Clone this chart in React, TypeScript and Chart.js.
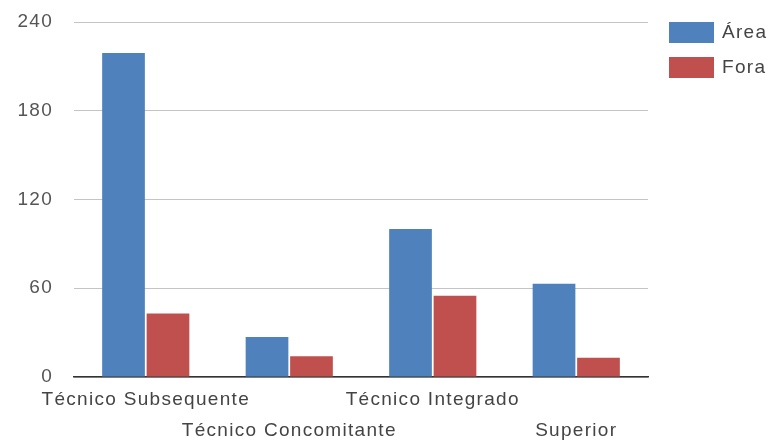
import React, { useEffect, useRef } from "react";
import { Chart, registerables } from "chart.js";

Chart.register(...registerables);

const categories: (string | string[])[] = [
  ["Técnico Subsequente", ""],
  ["", "Técnico Concomitante"],
  ["Técnico Integrado", ""],
  ["", "Superior"],
];
const seriesNames = ["Área", "Fora"];
const areaValues = [219, 27, 100, 63];
const foraValues = [43, 14, 55, 13];
const yTicks = [0, 60, 120, 180, 240];

const FONT = "'Liberation Sans', Arial, sans-serif";
const SPACING = "1.3px";

const spacingPlugin = {
  id: "spacing",
  beforeUpdate(chart: any) {
    chart.ctx.letterSpacing = SPACING;
  },
  beforeDraw(chart: any) {
    chart.ctx.letterSpacing = SPACING;
  },
};

const legendPlugin = {
  id: "customLegend",
  afterDraw(chart: any) {
    const ctx = chart.ctx;
    const area = chart.chartArea;
    ctx.save();
    ctx.letterSpacing = SPACING;
    ctx.font = `19px ${FONT}`;
    ctx.textBaseline = "middle";
    ctx.textAlign = "left";
    chart.data.datasets.forEach((ds: any, i: number) => {
      const x = area.right + 21;
      const y = area.top + i * 35;
      ctx.fillStyle = ds.backgroundColor;
      ctx.fillRect(x, y, 45, 21);
      ctx.fillStyle = "#444";
      ctx.fillText(ds.label, x + 53, y + 11);
    });
    ctx.restore();
  },
};

export default function App() {
  const ref = useRef<HTMLCanvasElement | null>(null);
  useEffect(() => {
    document.body.style.margin = "0";
    if (!ref.current) return;
    const chart = new Chart(ref.current, {
      type: "bar",
      data: {
        labels: categories,
        datasets: [
          {
            label: seriesNames[0],
            data: areaValues,
            backgroundColor: "#4F81BD",
            categoryPercentage: 0.62,
            barPercentage: 0.96,
          },
          {
            label: seriesNames[1],
            data: foraValues,
            backgroundColor: "#C0504D",
            categoryPercentage: 0.62,
            barPercentage: 0.96,
          },
        ],
      },
      plugins: [spacingPlugin, legendPlugin],
      options: {
        animation: false,
        responsive: false,
        maintainAspectRatio: false,
        layout: { padding: { top: 22, bottom: 0, left: 0, right: 123 } },
        plugins: {
          tooltip: { enabled: false },
          legend: { display: false },
        },
        scales: {
          x: {
            grid: { display: false, drawTicks: false },
            border: { display: true, color: "#333", width: 1.5 },
            afterFit: (s: any) => {
              s.height = 65;
            },
            ticks: {
              color: "#444",
              font: { family: FONT, size: 19, lineHeight: 1.63 },
              maxRotation: 0,
              minRotation: 0,
              autoSkip: false,
              padding: 7,
            },
          },
          y: {
            min: 0,
            max: 240,
            afterBuildTicks: (axis: any) => {
              axis.ticks = yTicks.map((v) => ({ value: v }));
            },
            afterFit: (s: any) => {
              s.width = 74;
              s.paddingTop = 0;
              s.paddingBottom = 0;
            },
            grid: { color: "#c4c4c4", drawTicks: false, lineWidth: 1 },
            border: { display: false },
            ticks: {
              color: "#555",
              font: { family: FONT, size: 19 },
              padding: 21,
            },
          },
        },
      },
    });
    return () => chart.destroy();
  }, []);
  return (
    <div style={{ position: "absolute", left: 0, top: 0, width: 771, height: 442 }}>
      <canvas ref={ref} width={771} height={442} style={{ width: 771, height: 442 }} />
    </div>
  );
}
